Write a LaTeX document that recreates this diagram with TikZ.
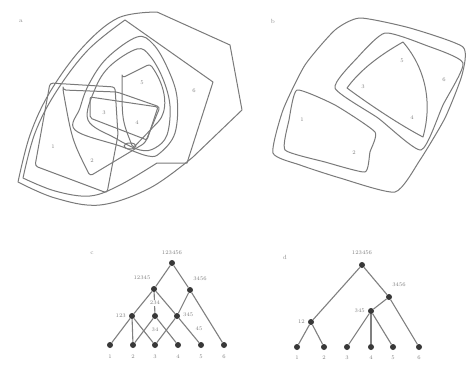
\documentclass[tikz,border=0pt]{standalone}
\begin{document}
\begin{tikzpicture}[x=1pt,y=-1pt]
\tikzset{
 setline/.style={draw=black!52, line width=1pt, line join=round},
 elem/.style={font=\fontsize{5.5}{6}\selectfont, text=black!50, inner sep=0.5pt},
 dot/.style={circle, fill=black!78, minimum size=6pt, inner sep=0pt},
 edge/.style={draw=black!50, line width=1.1pt},
 lab/.style={font=\fontsize{5.5}{6}\selectfont, text=black!50, inner sep=1pt},
 panel/.style={font=\fontsize{6}{7}\selectfont, text=black!45, inner sep=0pt}
}
\useasboundingbox (0,0) rectangle (467,367);
\fill[white] (0,0) rectangle (467,367);

% ---------- panel a ----------
\node[panel] (pa) at (21,21) {a};
\draw[setline] plot[smooth, tension=0.6] coordinates {(18,182) (30,135) (50,92) (82,48) (118,18) (157,12)} -- (230,45) -- (242,110) -- (193,157) -- plot[smooth, tension=0.6] coordinates {(193,157) (150,188) (100,205) (55,198) (18,182)} -- cycle;
\draw[setline] plot[smooth,tension=0.6] coordinates {(23,178) (35,133) (56,92) (88,50) (125,20)} -- (213,82) -- (187,163) -- (157,163) -- plot[smooth,tension=0.6] coordinates {(157,163) (120,185) (90,196) (55,191) (23,178)} -- cycle;
\draw[setline] plot[smooth cycle, tension=0.6] coordinates {(75,130) (80,108) (89,84) (107,58) (137,37) (153,44) (167,67) (177,97) (175,133) (160,153) (148,156) (120,146)};
\draw[setline] plot[smooth cycle, tension=0.6] coordinates {(88,120) (95,89) (110,66) (137,49) (150,56) (163,79) (170,106) (167,135) (155,148) (140,150) (115,138)};
\draw[setline, rounded corners=3pt] (35,166) -- (50,83) -- (115,87) -- (118,135) -- (107,193) -- cycle;
\draw[setline, rounded corners=3pt] (63,90) -- (117,92) -- (160,107) -- (145,143) -- (90,176) .. controls (72,140) .. (63,90) -- cycle;
\draw[setline, rounded corners=3pt] (122,78) -- (150,64) .. controls (165,85) and (168,105) .. (160,120) -- (133,148) .. controls (122,120) .. (122,78) -- cycle;
\draw[setline, rounded corners=2pt] (90,97) -- (158,107) -- (147,140) -- (90,118) -- cycle;
\draw[setline] (130,146) ellipse (6 and 3);
\node[elem] (a1) at (53,147) {1};
\node[elem] (a2) at (92,161) {2};
\node[elem] (a3) at (104,113) {3};
\node[elem] (a4) at (137,123) {4};
\node[elem] (a5) at (142,83) {5};
\node[elem] (a6) at (194,91) {6};

% ---------- panel b ----------
\node[panel] (pb) at (273,21) {b};
\draw[setline] plot[smooth cycle, tension=0.35] coordinates {(273,153) (283,110) (305,65) (335,30) (360,18) (410,28) (463,47) (462,75) (445,118) (420,160) (395,192) (340,178) (300,165)};
\draw[setline] plot[smooth cycle, tension=0.3] coordinates {(297,90) (335,105) (375,132) (370,152) (365,172) (325,162) (285,150) (289,120)};
\draw[setline] plot[smooth cycle, tension=0.35] coordinates {(335,88) (358,57) (385,33) (425,45) (463,63) (443,105) (421,150) (378,118)};
\draw[setline] (403,42) .. controls (380,55) and (360,70) .. (347,88) .. controls (370,105) and (400,125) .. (423,137) .. controls (432,105) and (427,70) .. (403,42) -- cycle;
\node[elem] (b1) at (302,120) {1};
\node[elem] (b2) at (354,153) {2};
\node[elem] (b3) at (363,87) {3};
\node[elem] (b4) at (412,118) {4};
\node[elem] (b5) at (402,61) {5};
\node[elem] (b6) at (444,80) {6};

% ---------- panel c ----------
\node[panel] (pc) at (92,253) {c};
\node[dot] (cR) at (172,263) {};
\node[dot] (c12345) at (154,289) {};
\node[dot] (c3456) at (190,290) {};
\node[dot] (c123) at (132,316) {};
\node[dot] (c234) at (155,316) {};
\node[dot] (c345) at (177,316) {};
\foreach \i/\x in {1/110,2/133,3/155,4/178,5/201,6/224}{
  \node[dot] (cL\i) at (\x,345) {};
  \node[lab] at (\x,357) {\i};
}
\draw[edge] (cR) -- (c12345);
\draw[edge] (cR) -- (c3456);
\draw[edge] (c12345) -- (c123);
\draw[edge] (c12345) -- (c345);
\draw[edge] (c12345) -- (c234);
\draw[edge] (c3456) -- (c345);
\draw[edge] (c3456) -- (cL6);
\draw[edge] (c123) -- (cL1);
\draw[edge] (c123) -- (cL2);
\draw[edge] (c123) -- (cL3);
\draw[edge] (c234) -- (cL2);
\draw[edge] (c234) -- (cL4);
\draw[edge] (c345) -- (cL3);
\draw[edge] (c345) -- (cL5);
\node[lab] at (172,253) {123456};
\node[lab] at (142,278) {12345};
\node[lab] at (200,279) {3456};
\node[lab, anchor=east] at (127,316) {123};
\node[lab, fill=white] at (155,303) {234};
\node[lab, anchor=west] at (182,315) {345};
\node[lab, fill=white] at (155,330) {34};
\node[lab, fill=white] at (199,329) {45};

% ---------- panel d ----------
\node[panel] (pd) at (285,257) {d};
\node[dot] (dR) at (362,265) {};
\node[dot] (d3456) at (389,297) {};
\node[dot] (d345) at (371,311) {};
\node[dot] (d12) at (311,322) {};
\foreach \i/\x in {1/297,2/324,3/347,4/371,5/393,6/419}{
  \node[dot] (dL\i) at (\x,347) {};
  \node[lab] at (\x,358) {\i};
}
\draw[edge] (dR) -- (d12);
\draw[edge] (dR) -- (d3456);
\draw[edge] (d12) -- (dL1);
\draw[edge] (d12) -- (dL2);
\draw[edge] (d3456) -- (dL6);
\draw[edge] (d3456) -- (d345);
\draw[edge] (d345) -- (dL3);
\draw[edge] (d345) -- (dL4);
\draw[edge] (d345) -- (dL5);
\node[lab] at (362,253) {123456};
\node[lab] at (399,285) {3456};
\node[lab, anchor=east] at (366,311) {345};
\node[lab, anchor=east] at (306,322) {12};
\end{tikzpicture}
\end{document}
